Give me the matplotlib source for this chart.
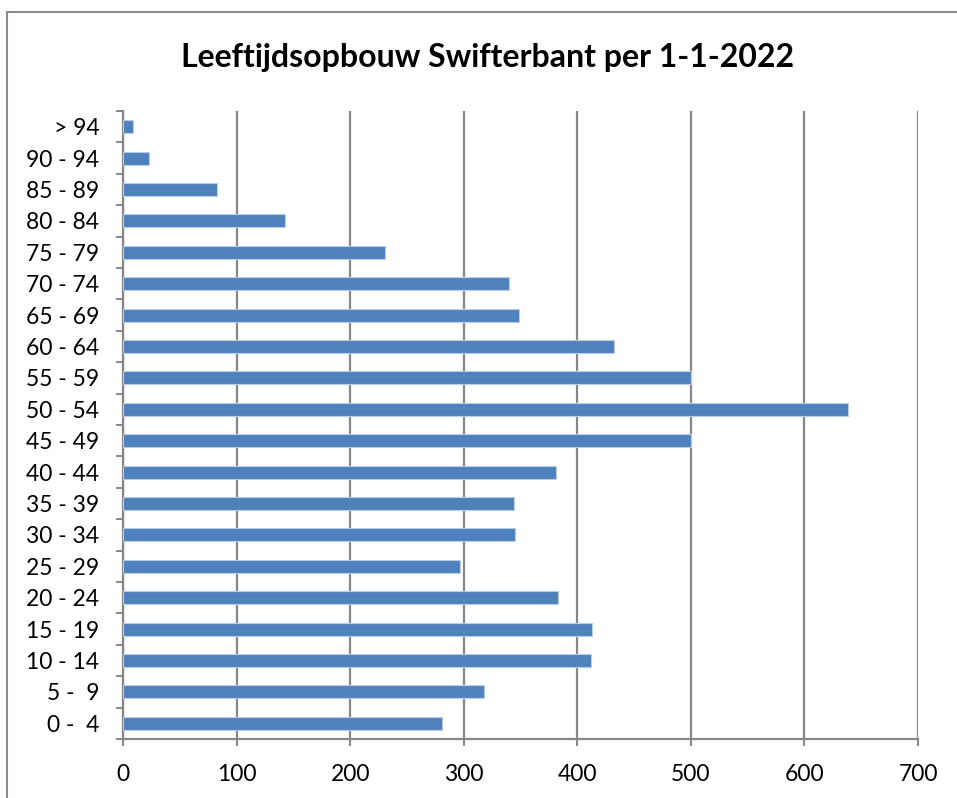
import matplotlib.pyplot as plt
from matplotlib.patches import Rectangle

# age groups, bottom to top
groups = ["0 -  4", "5 -  9", "10 - 14", "15 - 19", "20 - 24", "25 - 29", "30 - 34",
          "35 - 39", "40 - 44", "45 - 49", "50 - 54", "55 - 59", "60 - 64", "65 - 69",
          "70 - 74", "75 - 79", "80 - 84", "85 - 89", "90 - 94", "> 94"]
counts = [281, 318, 412, 413, 383, 297, 345, 344, 381, 500, 638, 500, 432, 349,
          340, 231, 143, 83, 23, 9]
xticks = [0, 100, 200, 300, 400, 500, 600, 700]

plt.rcParams['font.family'] = ['Lato', 'DejaVu Sans']

fig = plt.figure(figsize=(9.57, 7.98), dpi=100)
ax = fig.add_axes([123 / 957, 1 - 739 / 798, (918 - 123) / 957, (739 - 111) / 798])

# outer chart border (cut off on the right and bottom)
fig.patches.append(Rectangle((7 / 957, -0.05), 1.1, 1 - 12 / 798 + 0.05,
                             transform=fig.transFigure, fill=False,
                             edgecolor='#8c8c8c', linewidth=1.5))

pos = list(range(len(groups)))
ax.barh(pos, counts, height=0.42, color='#4f81bd', edgecolor='#b9cde5',
        linewidth=0.8, zorder=3)

ax.set_xlim(0, 700)
ax.set_ylim(-0.5, len(groups) - 0.5)
ax.set_xticks(xticks)
ax.set_xticklabels([str(v) for v in xticks])
ax.set_yticks(pos)
ax.set_yticklabels(groups)
ax.set_yticks([p - 0.5 for p in pos] + [len(groups) - 0.5], minor=True)

ax.xaxis.grid(True, color='#878787', linewidth=1.6, zorder=0)
ax.set_axisbelow(True)

for s in ['top', 'right']:
    ax.spines[s].set_visible(False)
for s in ['left', 'bottom']:
    ax.spines[s].set_color('#878787')
    ax.spines[s].set_linewidth(1.6)

ax.tick_params(axis='y', which='major', length=0, pad=17, labelsize=16.5)
ax.tick_params(axis='y', which='minor', length=5, width=1.4, color='#878787')
ax.tick_params(axis='x', length=5, width=1.4, color='#878787', pad=13, labelsize=16.5)

fig.text(488 / 957, 1 - 57 / 798, "Leeftijdsopbouw Swifterbant per 1-1-2022",
         ha='center', va='center', fontsize=23, fontweight='bold')

fig.savefig('out.png', dpi=100)
